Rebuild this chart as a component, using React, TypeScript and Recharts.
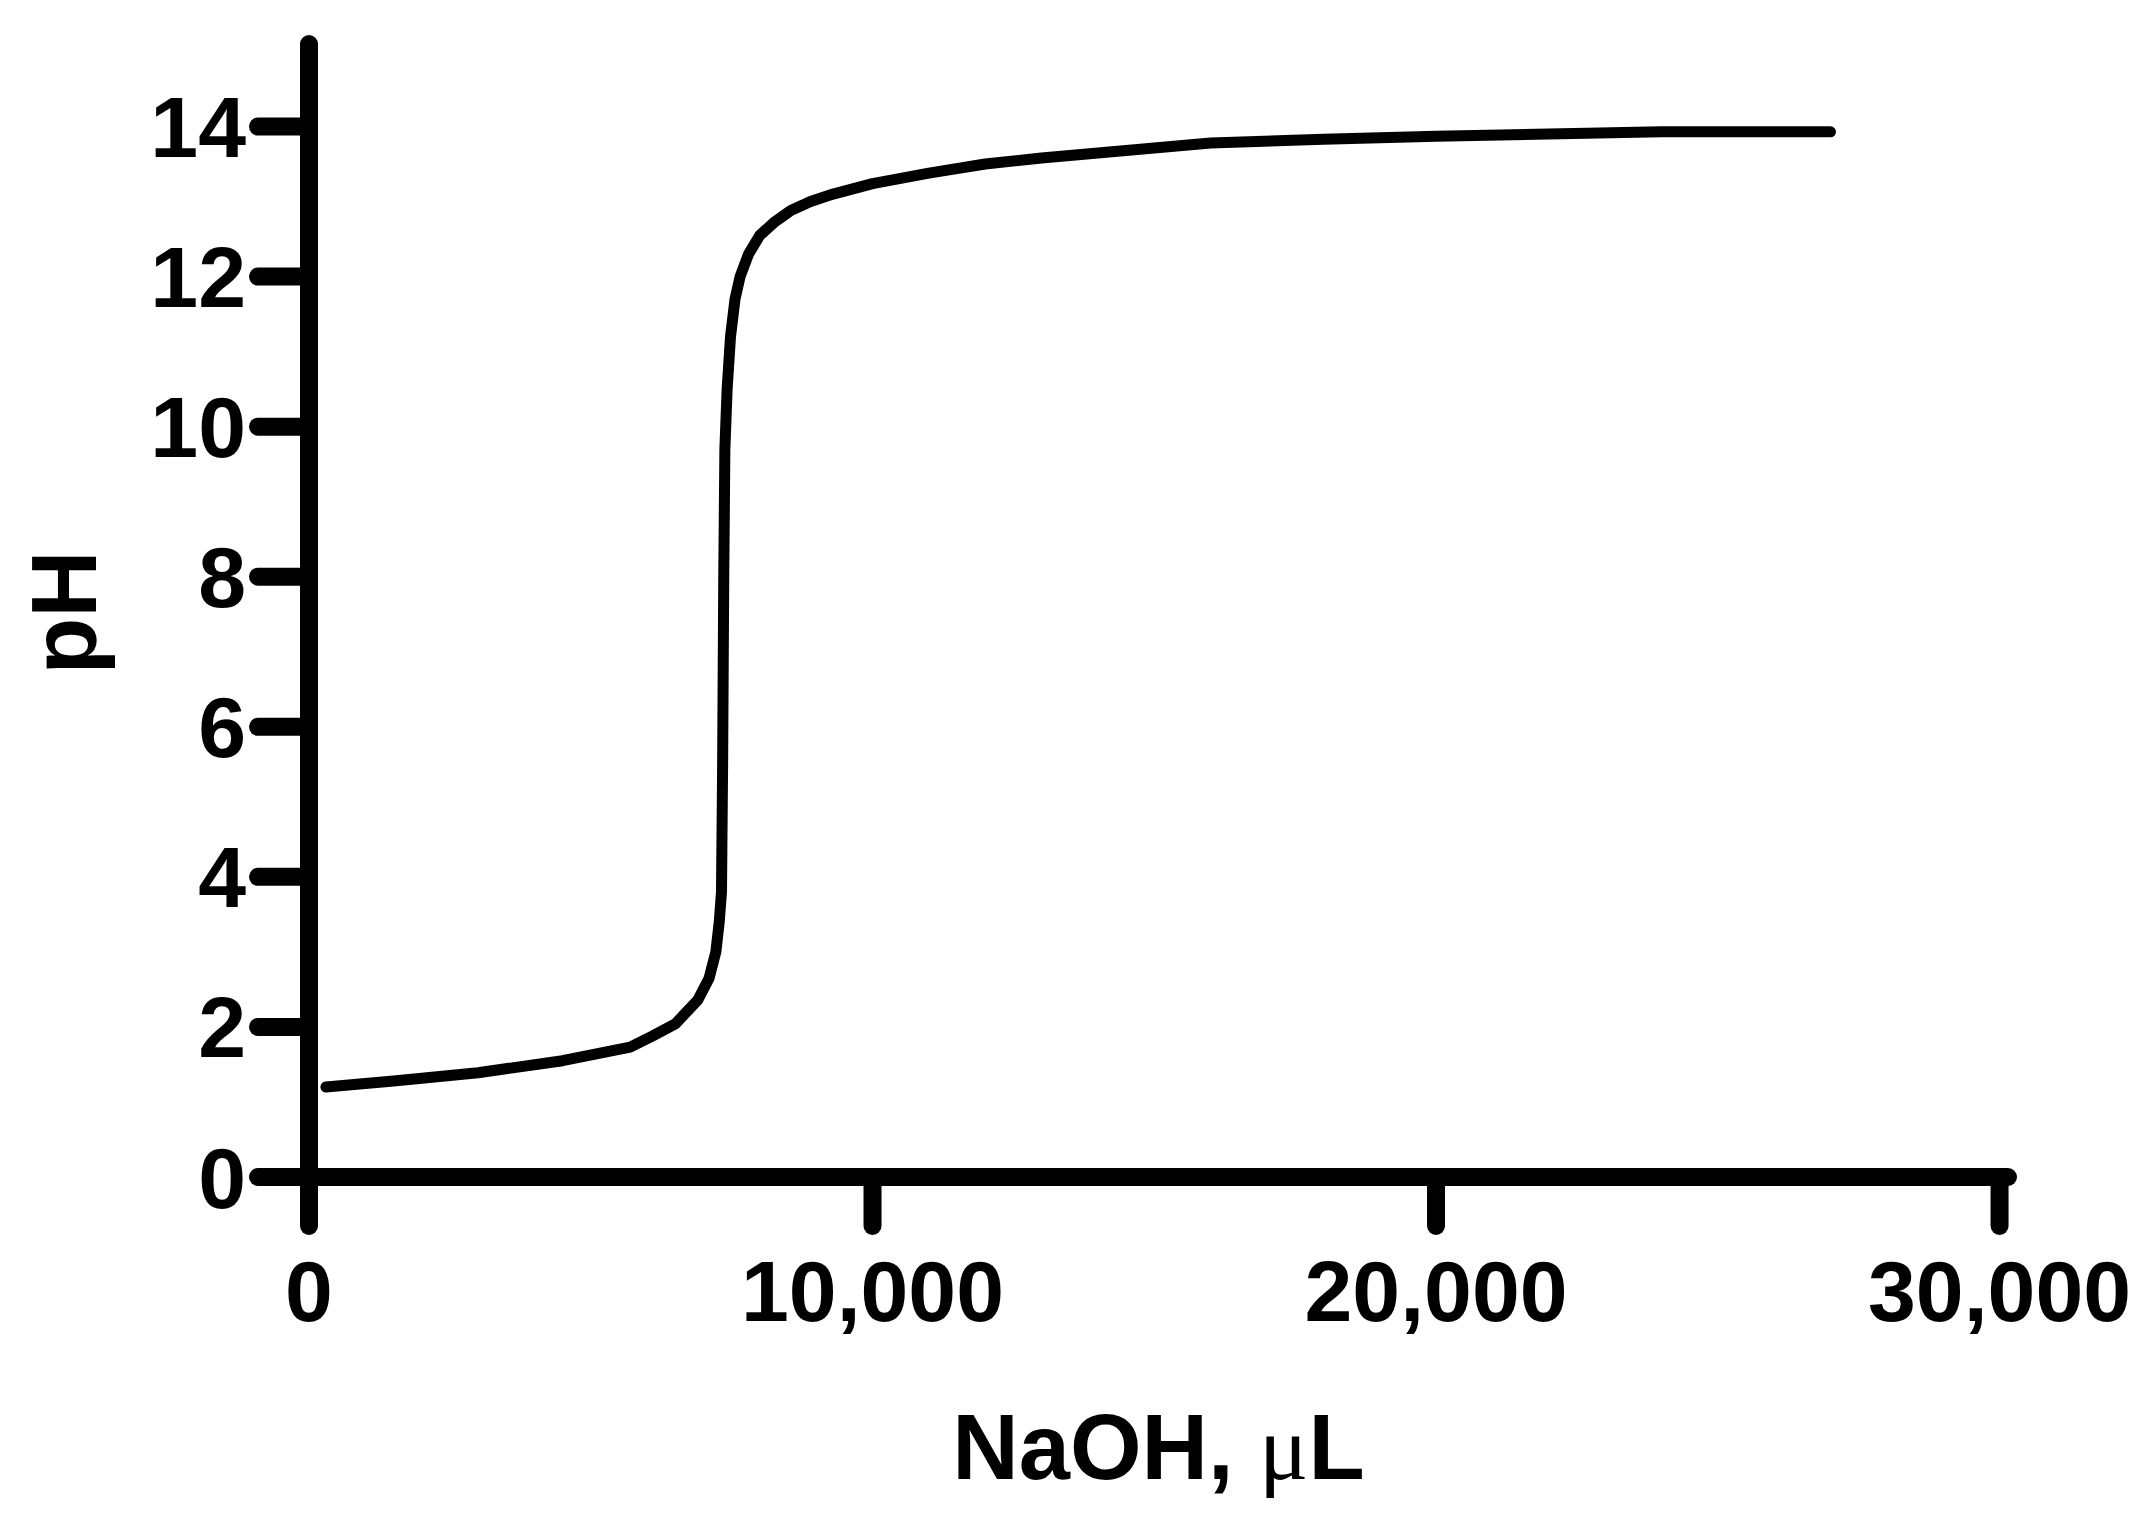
import { LineChart, Line, XAxis, YAxis, Label } from 'recharts';

const naohUl = [
  300, 1500, 3000, 4500, 5700, 6100, 6500, 6900, 7100, 7220, 7280, 7320,
  7340, 7360, 7380, 7420, 7480, 7560, 7650, 7800, 8000, 8250, 8550, 8900,
  9300, 10000, 11000, 12000, 13000, 14500, 16000, 18000, 20000, 22000, 24000, 27000,
];
const phValues = [
  1.2, 1.28, 1.39, 1.55, 1.73, 1.88, 2.04, 2.36, 2.65, 3.0, 3.4, 3.8,
  5.5, 8.0, 9.7, 10.5, 11.2, 11.7, 12.0, 12.3, 12.55, 12.72, 12.88, 13.0,
  13.1, 13.24, 13.38, 13.5, 13.58, 13.68, 13.78, 13.83, 13.87, 13.9, 13.93, 13.93,
];
const xTicks = [0, 10000, 20000, 30000];
const yTicks = [0, 2, 4, 6, 8, 10, 12, 14];

const data = naohUl.map((x, i) => ({ x, ph: phValues[i] }));

const FONT = '"Liberation Sans", Arial, sans-serif';
const axisStyle = { stroke: '#000', strokeWidth: 18, strokeLinecap: 'round' as const };
const tickStyle = { fill: '#000', fontSize: 86, fontWeight: 'bold', fontFamily: FONT };

const XTitle = ({ viewBox }: any) => {
  const cx = viewBox.x + viewBox.width / 2;
  return (
    <text x={cx} y={1479} textAnchor="middle" fill="#000" fontSize={92} fontWeight="bold" fontFamily={FONT}>
      NaOH,{' '}
      <tspan fontFamily='"Liberation Serif", serif' fontWeight="normal">μ</tspan>
      L
    </text>
  );
};

const YTitle = ({ viewBox }: any) => {
  const cy = viewBox.y + viewBox.height / 2 + 2;
  return (
    <text
      x={96}
      y={cy}
      transform={`rotate(-90 96 ${cy})`}
      textAnchor="middle"
      fill="#000"
      fontSize={93}
      fontWeight="bold"
      fontFamily={FONT}
    >
      pH
    </text>
  );
};

export default function App() {
  return (
    <div style={{ position: 'absolute', left: 0, top: 0, background: '#fff' }}>
      <LineChart width={2151} height={1531} data={data} margin={{ top: 44, right: 143, bottom: 0, left: 0 }}>
        <XAxis
          dataKey="x"
          type="number"
          domain={[0, 30150]}
          ticks={xTicks}
          interval={0}
          height={354}
          tickSize={49}
          tickMargin={34}
          axisLine={axisStyle}
          tickLine={axisStyle}
          tick={tickStyle}
          tickFormatter={(v: number) => v.toLocaleString('en-US')}
          allowDataOverflow
        >
          <Label content={<XTitle />} />
        </XAxis>
        <YAxis
          type="number"
          domain={[0, 15.1]}
          ticks={yTicks}
          interval={0}
          width={309}
          tickSize={51}
          tickMargin={12}
          axisLine={axisStyle}
          tickLine={axisStyle}
          tick={tickStyle}
          allowDataOverflow
        >
          <Label content={<YTitle />} />
        </YAxis>
        <Line
          dataKey="ph"
          type="linear"
          stroke="#000"
          strokeWidth={11}
          strokeLinecap="round"
          strokeLinejoin="round"
          dot={false}
          isAnimationActive={false}
        />
      </LineChart>
    </div>
  );
}
